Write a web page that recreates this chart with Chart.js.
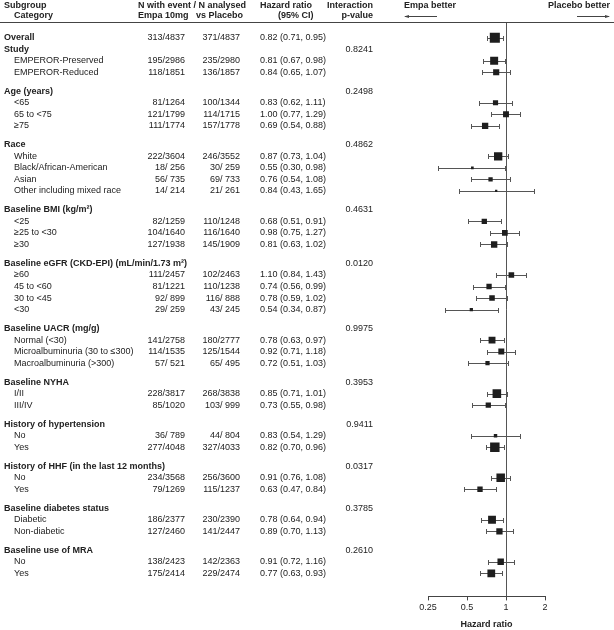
<!DOCTYPE html>
<html>
<head>
<meta charset="utf-8">
<script src="https://cdn.jsdelivr.net/npm/chart.js@4.4.1/dist/chart.umd.min.js"></script>
<style>
  body { margin: 0; background: #fff; }
  canvas { display: block; }
</style>
</head>
<body>
<canvas id="forest-canvas" width="614" height="630"></canvas>
<script>
// Rows of the table.
const rowLabels = [
  'Overall',
  'Study', 'EMPEROR-Preserved', 'EMPEROR-Reduced',
  'Age (years)', '<65', '65 to <75', '\u226575',
  'Race', 'White', 'Black/African-American', 'Asian', 'Other including mixed race',
  'Baseline BMI (kg/m\u00b2)', '<25', '\u226525 to <30', '\u226530',
  'Baseline eGFR (CKD-EPI) (mL/min/1.73 m\u00b2)', '\u226560', '45 to <60', '30 to <45', '<30',
  'Baseline UACR (mg/g)', 'Normal (<30)', 'Microalbuminuria (30 to \u2264300)', 'Macroalbuminuria (>300)',
  'Baseline NYHA', 'I/II', 'III/IV',
  'History of hypertension', 'No', 'Yes',
  'History of HHF (in the last 12 months)', 'No', 'Yes',
  'Baseline diabetes status', 'Diabetic', 'Non-diabetic',
  'Baseline use of MRA', 'No', 'Yes'
];
// 'top' = Overall, 'group' = subgroup header, 'sub' = category.
const rowKind = [
  'top',
  'group', 'sub', 'sub',
  'group', 'sub', 'sub', 'sub',
  'group', 'sub', 'sub', 'sub', 'sub',
  'group', 'sub', 'sub', 'sub',
  'group', 'sub', 'sub', 'sub', 'sub',
  'group', 'sub', 'sub', 'sub',
  'group', 'sub', 'sub',
  'group', 'sub', 'sub',
  'group', 'sub', 'sub',
  'group', 'sub', 'sub',
  'group', 'sub', 'sub'
];
const empaEvents = [
  '313/4837',
  null, '195/2986', '118/1851',
  null, '81/1264', '121/1799', '111/1774',
  null, '222/3604', '18/ 256', '56/ 735', '14/ 214',
  null, '82/1259', '104/1640', '127/1938',
  null, '111/2457', '81/1221', '92/ 899', '29/ 259',
  null, '141/2758', '114/1535', '57/ 521',
  null, '228/3817', '85/1020',
  null, '36/ 789', '277/4048',
  null, '234/3568', '79/1269',
  null, '186/2377', '127/2460',
  null, '138/2423', '175/2414'
];
const placeboEvents = [
  '371/4837',
  null, '235/2980', '136/1857',
  null, '100/1344', '114/1715', '157/1778',
  null, '246/3552', '30/ 259', '69/ 733', '21/ 261',
  null, '110/1248', '116/1640', '145/1909',
  null, '102/2463', '110/1238', '116/ 888', '43/ 245',
  null, '180/2777', '125/1544', '65/ 495',
  null, '268/3838', '103/ 999',
  null, '44/ 804', '327/4033',
  null, '256/3600', '115/1237',
  null, '230/2390', '141/2447',
  null, '142/2363', '229/2474'
];
const hazardRatio = [
  0.82,
  null, 0.81, 0.84,
  null, 0.83, 1.00, 0.69,
  null, 0.87, 0.55, 0.76, 0.84,
  null, 0.68, 0.98, 0.81,
  null, 1.10, 0.74, 0.78, 0.54,
  null, 0.78, 0.92, 0.72,
  null, 0.85, 0.73,
  null, 0.83, 0.82,
  null, 0.91, 0.63,
  null, 0.78, 0.89,
  null, 0.91, 0.77
];
const ciLower = [
  0.71,
  null, 0.67, 0.65,
  null, 0.62, 0.77, 0.54,
  null, 0.73, 0.30, 0.54, 0.43,
  null, 0.51, 0.75, 0.63,
  null, 0.84, 0.56, 0.59, 0.34,
  null, 0.63, 0.71, 0.51,
  null, 0.71, 0.55,
  null, 0.54, 0.70,
  null, 0.76, 0.47,
  null, 0.64, 0.70,
  null, 0.72, 0.63
];
const ciUpper = [
  0.95,
  null, 0.98, 1.07,
  null, 1.11, 1.29, 0.88,
  null, 1.04, 0.98, 1.08, 1.65,
  null, 0.91, 1.27, 1.02,
  null, 1.43, 0.99, 1.02, 0.87,
  null, 0.97, 1.18, 1.03,
  null, 1.01, 0.98,
  null, 1.29, 0.96,
  null, 1.08, 0.84,
  null, 0.94, 1.13,
  null, 1.16, 0.93
];
const interactionP = [
  null,
  '0.8241', null, null,
  '0.2498', null, null, null,
  '0.4862', null, null, null, null,
  '0.4631', null, null, null,
  '0.0120', null, null, null, null,
  '0.9975', null, null, null,
  '0.3953', null, null,
  '0.9411', null, null,
  '0.0317', null, null,
  '0.3785', null, null,
  '0.2610', null, null
];
const xTicks = [0.25, 0.5, 1, 2];

const FONT = '"Liberation Sans", Arial, Helvetica, sans-serif';
const TEXT = '#222';

// Row positions: one unit per row, a small gap before each subgroup.
const rowPos = [];
let pos = 0;
rowKind.forEach(function(kind, i) {
  if (i > 0) {
    pos += 1;
    if (kind == 'group' && rowKind[i - 1] != 'top') pos += 0.65;
  }
  rowPos.push(pos);
});

// Square size from total number of events.
const totalEvents = empaEvents.map(function(e, i) {
  if (!e) return 0;
  return parseInt(e.split('/')[0]) + parseInt(placeboEvents[i].split('/')[0]);
});

const points = [];
const radii = [];
hazardRatio.forEach(function(hr, i) {
  if (hr == null) return;
  points.push({ x: hr, y: rowPos[i] });
  const side = 0.385 * Math.sqrt(totalEvents[i]);
  radii.push(side / Math.SQRT2);
});

const fmt = function(v) { return v.toFixed(2); };

const forestPlugin = {
  id: 'forest',
  beforeDatasetsDraw(chart) {
    const ctx = chart.ctx;
    const xs = chart.scales.x;
    const ys = chart.scales.y;
    const area = chart.chartArea;
    ctx.save();
    ctx.strokeStyle = '#555';
    ctx.lineWidth = 1;
    // Line at HR = 1.
    const x1 = Math.round(xs.getPixelForValue(1)) + 0.5;
    ctx.beginPath();
    ctx.moveTo(x1, area.top);
    ctx.lineTo(x1, area.bottom);
    ctx.stroke();
    // Confidence intervals.
    hazardRatio.forEach(function(hr, i) {
      if (hr == null) return;
      const py = Math.round(ys.getPixelForValue(rowPos[i])) + 0.5;
      const xl = Math.round(xs.getPixelForValue(ciLower[i])) + 0.5;
      const xh = Math.round(xs.getPixelForValue(ciUpper[i])) + 0.5;
      ctx.beginPath();
      ctx.moveTo(xl, py); ctx.lineTo(xh, py);
      ctx.moveTo(xl, py - 2.5); ctx.lineTo(xl, py + 2.5);
      ctx.moveTo(xh, py - 2.5); ctx.lineTo(xh, py + 2.5);
      ctx.stroke();
    });
    ctx.restore();
  },
  afterDraw(chart) {
    const ctx = chart.ctx;
    const ys = chart.scales.y;
    const area = chart.chartArea;
    ctx.save();
    ctx.fillStyle = TEXT;
    ctx.textBaseline = 'middle';

    // Header.
    ctx.font = 'bold 9px ' + FONT;
    ctx.textAlign = 'left';
    ctx.fillText('Subgroup', 4, 5.5);
    ctx.fillText('Category', 14, 15.5);
    ctx.fillText('N with event / N analysed', 138, 5.5);
    ctx.fillText('Empa 10mg', 138, 15.5);
    ctx.textAlign = 'right';
    ctx.fillText('vs Placebo', 243, 15.5);
    ctx.textAlign = 'left';
    ctx.fillText('Hazard ratio', 260, 5.5);
    ctx.fillText('(95% CI)', 278, 15.5);
    ctx.textAlign = 'right';
    ctx.fillText('Interaction', 373, 5.5);
    ctx.fillText('p-value', 373, 15.5);
    ctx.textAlign = 'left';
    ctx.fillText('Empa better', 404, 5.5);
    ctx.textAlign = 'right';
    ctx.fillText('Placebo better', 610, 5.5);

    // Arrows.
    ctx.strokeStyle = '#444';
    ctx.lineWidth = 1;
    ctx.beginPath();
    ctx.moveTo(405, 16.5); ctx.lineTo(437, 16.5);
    ctx.moveTo(577, 16.5); ctx.lineTo(609, 16.5);
    ctx.stroke();
    ctx.fillStyle = '#444';
    ctx.beginPath();
    ctx.moveTo(404, 16.5); ctx.lineTo(409, 15); ctx.lineTo(409, 18); ctx.closePath();
    ctx.moveTo(610, 16.5); ctx.lineTo(605, 15); ctx.lineTo(605, 18); ctx.closePath();
    ctx.fill();

    // Header rule.
    ctx.beginPath();
    ctx.moveTo(0, Math.round(area.top) + 0.5);
    ctx.lineTo(614, Math.round(area.top) + 0.5);
    ctx.stroke();

    // Table rows.
    ctx.fillStyle = TEXT;
    rowLabels.forEach(function(label, i) {
      const py = ys.getPixelForValue(rowPos[i]);
      const kind = rowKind[i];
      ctx.textAlign = 'left';
      ctx.font = (kind == 'sub' ? '' : 'bold ') + '9px ' + FONT;
      ctx.fillText(label, kind == 'sub' ? 14 : 4, py);
      ctx.font = '9px ' + FONT;
      if (empaEvents[i]) {
        ctx.textAlign = 'right';
        ctx.fillText(empaEvents[i], 185, py);
        ctx.fillText(placeboEvents[i], 240, py);
      }
      if (hazardRatio[i] != null) {
        ctx.textAlign = 'left';
        ctx.fillText(fmt(hazardRatio[i]) + ' (' + fmt(ciLower[i]) + ', ' + fmt(ciUpper[i]) + ')', 260, py);
      }
      if (interactionP[i]) {
        ctx.textAlign = 'right';
        ctx.fillText(interactionP[i], 373, py);
      }
    });
    ctx.restore();
  }
};

new Chart(document.getElementById('forest-canvas'), {
  type: 'scatter',
  data: {
    datasets: [{
      data: points,
      pointStyle: 'rect',
      pointRadius: radii,
      borderWidth: 0,
      backgroundColor: '#1e1e1e',
    }],
  },
  options: {
    responsive: false,
    animation: false,
    events: [],
    devicePixelRatio: 1,
    layout: { padding: { left: 428, right: 69, top: 22, bottom: 0 } },
    plugins: {
      legend: { display: false },
      tooltip: { enabled: false },
    },
    scales: {
      x: {
        type: 'logarithmic',
        min: 0.25,
        max: 2,
        afterBuildTicks: function(axis) {
          axis.ticks = xTicks.map(function(v) { return { value: v }; });
        },
        ticks: {
          autoSkip: false,
          maxRotation: 0,
          padding: 2,
          color: TEXT,
          font: { family: FONT, size: 9 },
          callback: function(value) { return String(value); },
        },
        grid: { drawOnChartArea: false, tickLength: 4, color: '#444' },
        border: { color: '#444', width: 1 },
        title: {
          display: true,
          text: 'Hazard ratio',
          color: TEXT,
          font: { family: FONT, size: 9, weight: 'bold' },
          padding: { top: 4, bottom: 0 },
        },
      },
      y: {
        type: 'linear',
        reverse: true,
        min: -1.36,
        max: 48.5,
        display: false,
      },
    },
  },
  plugins: [forestPlugin],
});
</script>
</body>
</html>
